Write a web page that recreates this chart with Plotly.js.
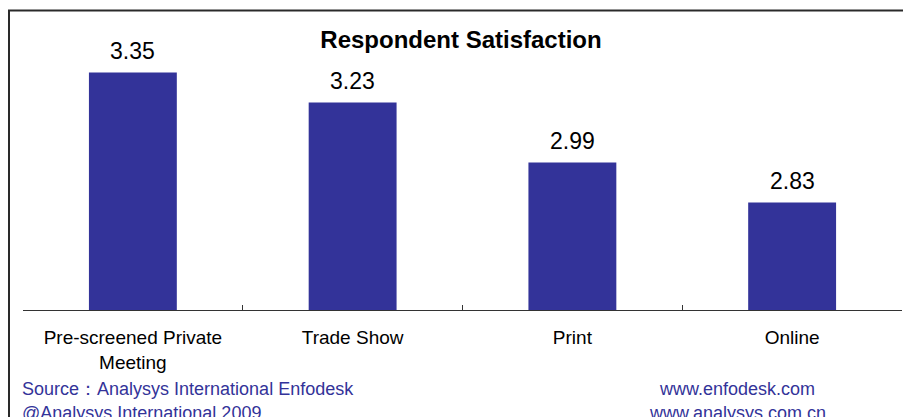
<!DOCTYPE html>
<html>
<head>
<meta charset="utf-8">
<script src="https://cdn.plot.ly/plotly-3.0.1.min.js"></script>
<style>
  html, body { margin: 0; padding: 0; background: #fff; }
  #chart { width: 903px; height: 417px; }
</style>
</head>
<body>
<div id="chart"></div>
<script>
var categories = ["Pre-screened Private<br>Meeting", "Trade Show", "Print", "Online"];
var satisfaction = [3.35, 3.23, 2.99, 2.83];
var valueLabels = ["3.35", "3.23", "2.99", "2.83"];
var chartTitle = "Respondent Satisfaction";
var sourceLines = ["Source\uFF1AAnalysys International Enfodesk", "@Analysys International 2009"];
var siteLines = ["www.enfodesk.com", "www.analysys.com.cn"];

var FONT = '"Liberation Sans", Arial, Helvetica, sans-serif';
var BLUE = '#333399';

var trace = {
  type: 'bar',
  x: categories,
  y: satisfaction,
  width: 0.4,
  marker: { color: BLUE, line: { width: 0 } },
  hoverinfo: 'skip'
};

var annotations = [];
categories.forEach(function (c, i) {
  annotations.push({
    x: c, y: satisfaction[i], xref: 'x', yref: 'y',
    text: valueLabels[i], showarrow: false,
    yanchor: 'middle', xanchor: 'center', yshift: 22,
    font: { family: FONT, size: 23, color: '#000' }
  });
});
var PLOT_L = 23, PLOT_W = 879, PLOT_B = 310, PLOT_H = 300;
function px2x(px) { return (px - PLOT_L) / PLOT_W; }
function py2y(py) { return (PLOT_B - py) / PLOT_H; }
var lineY = [389, 413];
sourceLines.forEach(function (t, i) {
  annotations.push({
    x: px2x(20), y: py2y(lineY[i]), xref: 'paper', yref: 'paper',
    text: t, showarrow: false, xanchor: 'left', yanchor: 'middle',
    font: { family: FONT, size: 18, color: BLUE }
  });
});
siteLines.forEach(function (t, i) {
  annotations.push({
    x: px2x(737), y: py2y(lineY[i]), xref: 'paper', yref: 'paper',
    text: t, showarrow: false, xanchor: 'center', yanchor: 'middle',
    font: { family: FONT, size: 18, color: BLUE }
  });
});

var layout = {
  width: 903, height: 417,
  margin: { l: PLOT_L, r: 903 - PLOT_L - PLOT_W, t: 10, b: 417 - PLOT_B },
  paper_bgcolor: '#fff', plot_bgcolor: '#fff',
  showlegend: false,
  title: {
    text: '<b>' + chartTitle + '</b>',
    x: 461 / 903, xanchor: 'center', xref: 'container',
    y: 1 - 40 / 417, yanchor: 'middle', yref: 'container',
    font: { family: FONT, size: 24, color: '#000' }
  },
  xaxis: {
    type: 'category',
    range: [-0.5, 3.5],
    showline: true, linecolor: '#333', linewidth: 1,
    ticks: 'inside', ticklen: 5, tickwidth: 1, tickcolor: '#333',
    tickson: 'boundaries',
    ticklabelstandoff: 10,
    showgrid: false, zeroline: false,
    tickfont: { family: FONT, size: 19, color: '#000' },
    fixedrange: true
  },
  yaxis: {
    range: [2.4, 3.6],
    visible: false, showgrid: false, zeroline: false, fixedrange: true
  },
  annotations: annotations,
  shapes: [{
    type: 'rect', xref: 'paper', yref: 'paper',
    x0: px2x(9), x1: px2x(915), y0: py2y(430), y1: py2y(10.5),
    line: { color: '#2a2a2a', width: 2 }, fillcolor: 'rgba(0,0,0,0)'
  }]
};

Plotly.newPlot('chart', [trace], layout, { displayModeBar: false, staticPlot: true });
</script>
</body>
</html>
